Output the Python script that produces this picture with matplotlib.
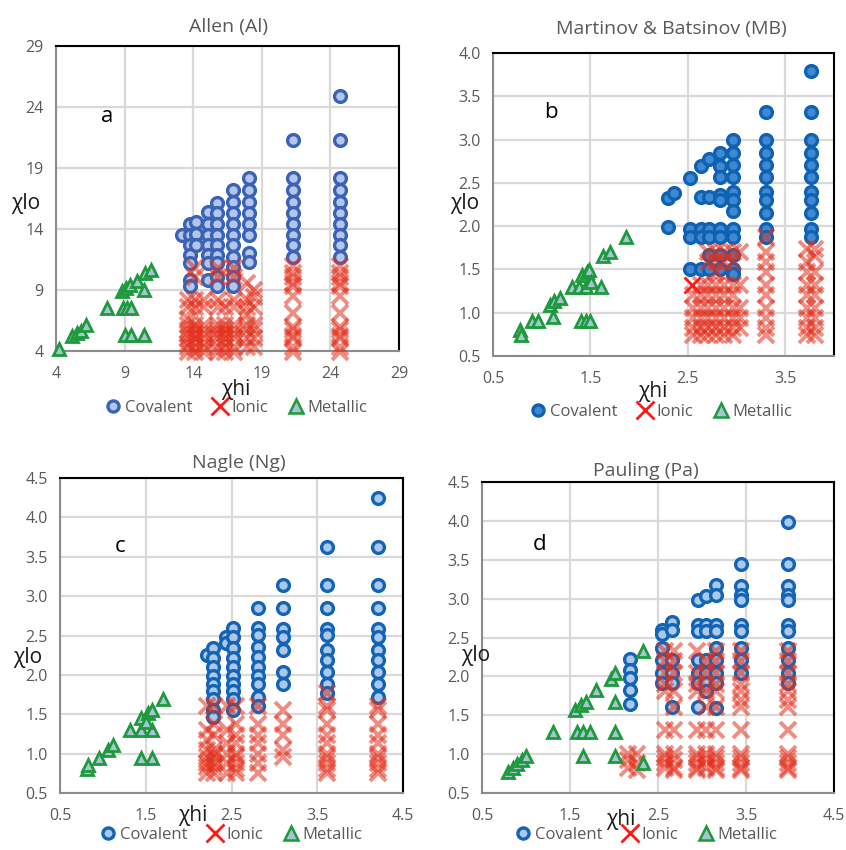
import matplotlib
matplotlib.use("Agg")
import matplotlib.pyplot as plt
from matplotlib.lines import Line2D

plt.rcParams['font.family'] = ['Open Sans', 'DejaVu Sans']

# ---------------- Allen (Al) ----------------
al_cov_x = [13.2, 13.8, 14.2, 15.1, 15.7, 16.9, 18.1, 21.3, 24.7]
al_cov_y = [
    [13.5],
    [14.4, 13.5, 12.7, 11.9, 11.2, 9.8, 9.3],
    [14.6, 13.6, 12.7],
    [15.4, 14.4, 13.5, 12.7, 11.9, 11.2, 9.8],
    [16.1, 15.3, 14.4, 13.5, 12.7, 11.9, 11.2, 10.1, 9.3],
    [17.2, 16.2, 15.3, 14.4, 13.5, 12.7, 11.7, 10.9, 10.1, 9.3],
    [18.2, 17.2, 16.2, 15.3, 14.4, 13.5, 12.0, 11.3],
    [21.3, 18.2, 17.2, 16.2, 15.3, 14.4, 13.5, 12.7, 11.7],
    [24.9, 21.3, 18.2, 17.2, 16.2, 15.3, 14.4, 13.5, 12.7, 11.7],
]
al_ion_x = [13.6, 14.1, 14.8, 15.8, 16.3, 17.0, 17.9, 18.4, 21.3, 24.7]
al_ion_y = [
    [3.9, 4.3, 4.6, 5.1, 5.4, 5.7, 6.1, 6.6, 7.6, 8.2],
    [3.9, 4.3, 5.1, 5.4, 5.7, 6.1, 7.6, 8.2, 10.1, 10.8],
    [3.9, 4.3, 4.6, 5.1, 5.4, 5.7, 6.1, 7.6, 8.2],
    [3.9, 4.3, 5.1, 5.4, 5.7, 6.1, 7.6, 8.2, 10.1, 10.8],
    [3.9, 4.3, 5.1, 5.4, 5.7, 6.1, 7.6],
    [3.9, 4.3, 5.1, 5.4, 5.7, 6.1, 7.6, 8.2, 10.1, 10.8],
    [4.3, 5.1, 5.7, 6.1, 7.0, 7.6, 8.2, 9.6],
    [4.3, 5.1, 5.7, 6.1, 7.6, 8.4, 9.0],
    [3.9, 4.3, 5.1, 5.2, 5.7, 6.0, 7.1, 8.5, 9.3, 9.6, 10.1, 10.4, 11.0],
    [3.9, 4.3, 5.1, 5.2, 5.7, 6.0, 7.1, 8.5, 9.3, 9.6, 10.1, 10.4, 11.0],
]
al_met_x = [4.2, 5.2, 5.5, 5.8, 6.2, 7.7, 8.9, 9.2, 9.5, 9.0, 9.5, 10.4,
            8.8, 9.1, 9.4, 9.9, 10.4, 10.5, 10.9]
al_met_y = [4.2, 5.2, 5.5, 5.6, 6.1, 7.5, 7.5, 7.5, 7.5, 5.3, 5.3, 5.3,
            8.9, 9.2, 9.4, 9.7, 9.0, 10.4, 10.6]

# ---------------- Martinov & Batsinov (MB) ----------------
mb_cov_x = [2.30, 2.36, 2.52, 2.63, 2.72, 2.83, 2.96, 3.30, 3.76]
mb_cov_y = [
    [2.33, 1.99],
    [2.38],
    [2.56, 1.97, 1.88, 1.51],
    [2.69, 2.34, 1.97, 1.88, 1.51],
    [2.77, 2.34, 1.97, 1.88, 1.67, 1.51],
    [2.84, 2.69, 2.57, 2.36, 2.30, 1.97, 1.88, 1.67, 1.51],
    [2.99, 2.84, 2.71, 2.57, 2.40, 2.30, 2.17, 1.97, 1.88, 1.67, 1.51, 1.45],
    [3.32, 2.99, 2.84, 2.71, 2.57, 2.40, 2.30, 2.15, 1.97, 1.88],
    [3.79, 3.32, 2.99, 2.84, 2.71, 2.57, 2.40, 2.30, 2.15, 1.97, 1.88],
]
mb_ion_x = [2.55, 2.63, 2.71, 2.79, 2.87, 2.96, 3.04, 3.30, 3.72, 3.80]
mb_ion_y = [
    [1.20, 1.05, 0.94, 0.82, 0.74],
    [1.32, 1.20, 1.05, 0.94, 0.82, 0.74],
    [1.70, 1.59, 1.32, 1.20, 1.05, 0.94, 0.82, 0.74],
    [1.70, 1.59, 1.47, 1.32, 1.20, 1.05, 0.94, 0.82, 0.74],
    [1.70, 1.59, 1.32, 1.20, 1.05, 0.94, 0.82, 0.74],
    [1.70, 1.59, 1.32, 1.20, 1.05, 0.94, 0.82, 0.74],
    [1.70, 1.32, 1.05, 0.94, 0.82],
    [1.88, 1.70, 1.59, 1.47, 1.32, 1.20, 1.05, 0.94, 0.82, 0.74],
    [1.74, 1.59, 1.47, 1.32, 1.20, 1.05, 0.94, 0.82, 0.74],
    [1.74, 1.65, 1.47, 1.32, 1.20, 1.05, 0.94, 0.82, 0.74],
]
mb_ion_sharp_x = [2.54]
mb_ion_sharp_y = [1.32]
mb_met_x = [0.78, 0.79, 0.90, 0.96, 1.08, 1.13, 1.19, 1.12, 1.31, 1.38, 1.45,
            1.41, 1.46, 1.49, 1.51, 1.61, 1.40, 1.45, 1.50, 1.63, 1.70, 1.87]
mb_met_y = [0.80, 0.74, 0.90, 0.90, 1.09, 1.13, 1.17, 0.95, 1.30, 1.30, 1.30,
            1.43, 1.47, 1.49, 1.36, 1.30, 0.90, 0.90, 0.90, 1.65, 1.70, 1.88]

# ---------------- Nagle (Ng) ----------------
ng_cov_x = [2.21, 2.28, 2.44, 2.52, 2.81, 3.10, 3.61, 4.21]
ng_cov_y = [
    [2.25],
    [2.34, 2.22, 2.10, 1.99, 1.89, 1.79, 1.70, 1.55, 1.47],
    [2.48, 2.40],
    [2.59, 2.48, 2.34, 2.22, 2.10, 1.99, 1.89, 1.79, 1.70, 1.55],
    [2.85, 2.59, 2.51, 2.36, 2.23, 2.10, 1.98, 1.89, 1.72, 1.60],
    [3.14, 2.85, 2.58, 2.48, 2.32, 2.04, 1.89],
    [3.63, 3.14, 2.85, 2.58, 2.51, 2.32, 2.19, 2.04, 1.89, 1.77],
    [4.25, 3.63, 3.14, 2.85, 2.58, 2.48, 2.32, 2.19, 2.04, 1.89, 1.72],
]
ng_ion_x = [2.22, 2.30, 2.45, 2.55, 2.81, 3.10, 3.61, 4.21]
ng_ion_y = [
    [1.60, 1.30, 1.17, 1.05, 0.96, 0.88, 0.83, 0.75],
    [1.60, 1.38, 1.24, 1.05, 1.00, 0.96, 0.88, 0.83, 0.75],
    [1.60, 1.30, 1.13, 1.00, 0.88, 0.75],
    [1.60, 1.38, 1.24, 1.13, 1.00, 0.96, 0.88, 0.80, 0.75],
    [1.60, 1.38, 1.24, 1.13, 1.00, 0.88, 0.75],
    [1.55, 1.38, 1.24, 1.05, 0.96],
    [1.77, 1.60, 1.55, 1.38, 1.24, 1.13, 1.00, 0.95, 0.88, 0.80, 0.75],
    [1.60, 1.55, 1.38, 1.24, 1.13, 1.00, 0.95, 0.88, 0.80, 0.75],
]
ng_met_x = [0.81, 0.83, 0.95, 1.06, 1.12, 1.32, 1.45, 1.57, 1.45, 1.53, 1.57,
            1.45, 1.57, 1.70, 1.50]
ng_met_y = [0.81, 0.85, 0.94, 1.05, 1.11, 1.30, 1.30, 1.30, 1.45, 1.51, 1.55,
            0.94, 0.94, 1.70, 1.40]

# ---------------- Pauling (Pa) ----------------
pa_cov_x = [2.18, 2.55, 2.66, 2.96, 3.04, 3.16, 3.44, 3.98]
pa_cov_y = [
    [2.22, 2.08, 1.98, 1.82, 1.65],
    [2.60, 2.55, 2.36, 2.21, 2.04, 1.91],
    [2.70, 2.60, 2.21, 2.04, 1.91, 1.61],
    [2.98, 2.66, 2.58, 2.21, 2.04, 1.91, 1.61],
    [3.04, 2.66, 2.58, 2.21, 2.04, 1.91, 1.81],
    [3.18, 3.05, 2.66, 2.58, 2.36, 2.21, 2.04, 1.91, 1.59],
    [3.45, 3.16, 3.05, 2.98, 2.66, 2.58, 2.36, 2.21, 2.04],
    [3.99, 3.45, 3.16, 3.05, 2.98, 2.66, 2.58, 2.36, 2.21, 2.04, 1.91],
]
pa_ion_x = [2.16, 2.26, 2.58, 2.68, 2.94, 3.04, 3.16, 3.44, 3.98]
pa_ion_y = [
    [1.00, 0.93, 0.82],
    [1.00, 0.88, 0.79],
    [2.33, 2.20, 2.04, 1.90, 1.81, 1.31, 1.00, 0.95, 0.89, 0.82],
    [2.33, 2.20, 2.04, 1.81, 1.61, 1.31, 1.00, 0.93, 0.82, 0.79],
    [2.33, 2.04, 1.90, 1.81, 1.31, 1.00, 0.95, 0.89, 0.82, 0.79],
    [2.20, 2.04, 1.81, 1.61, 1.31, 1.00, 0.93, 0.82],
    [2.33, 2.20, 2.04, 1.90, 1.81, 1.61, 1.31, 1.00, 0.95, 0.89, 0.82, 0.79],
    [2.33, 2.20, 2.04, 1.90, 1.81, 1.70, 1.61, 1.31, 1.00, 0.95, 0.89, 0.82, 0.79],
    [2.33, 2.20, 2.04, 1.90, 1.81, 1.70, 1.61, 1.31, 1.00, 0.95, 0.89, 0.82, 0.79],
]
pa_met_x = [0.80, 0.85, 0.90, 0.95, 1.00, 1.31, 1.58, 1.65, 1.73, 1.65, 1.56,
            1.62, 1.68, 1.80, 1.97, 2.01, 2.01, 2.01, 2.01, 2.33, 2.33]
pa_met_y = [0.77, 0.82, 0.87, 0.93, 0.97, 1.29, 1.29, 1.29, 1.29, 0.97, 1.57,
            1.63, 1.67, 1.83, 1.97, 2.04, 1.67, 1.29, 0.97, 0.88, 2.32]

GREY = '#595959'
RED = '#E3301C'


def flat(cols, ylists):
    xs, ys = [], []
    for x, yl in zip(cols, ylists):
        xs += [x] * len(yl)
        ys += yl
    return xs, ys


def panel(ax, title, letter, cov, ion, met, lim, ticks, fmt, cov_fc, cov_ec,
          title_xy, letter_xy, hi_xy, lo_xy, leg_xy):
    cx, cy = flat(*cov)
    ix, iy = flat(*ion)
    ax.plot(cx, cy, 'o', ms=8.5, mfc=cov_fc, mec=cov_ec, mew=2.4, ls='none',
            zorder=3, clip_on=False)
    ax.plot(ix, iy, 'x', ms=12, color=RED, mew=2.8, alpha=0.55, ls='none',
            zorder=4, clip_on=False)
    ax.plot(met[0], met[1], '^', ms=8.5, mfc='#A9C3D3', mec='#1C9A3C', mew=2,
            ls='none', zorder=5, clip_on=False)

    ax.set_xlim(lim)
    ax.set_ylim(lim[0], ticks[1][-1])
    ax.set_xticks(ticks[0])
    ax.set_yticks(ticks[1])
    ax.set_xticklabels([fmt % t for t in ticks[0]], fontsize=11.5, color=GREY)
    ax.set_yticklabels([fmt % t for t in ticks[1]], fontsize=11.5, color=GREY)
    ax.tick_params(length=0)
    ax.tick_params(axis='x', pad=11)
    ax.tick_params(axis='y', pad=9)
    ax.grid(True, color='#D9D9D9', lw=1.6, zorder=0)
    ax.set_axisbelow(True)
    for s in ['top', 'right']:
        ax.spines[s].set_color('black')
        ax.spines[s].set_linewidth(1.5)
    for s in ['left', 'bottom']:
        ax.spines[s].set_color('#8C8C8C')
        ax.spines[s].set_linewidth(1.5)

    fig.text(title_xy[0] / W, 1 - title_xy[1] / H, title, ha='center',
             va='center', fontsize=14, color=GREY)
    fig.text(letter_xy[0] / W, 1 - letter_xy[1] / H, letter, ha='center',
             va='center', fontsize=16, color='black')
    fig.text(hi_xy[0] / W, 1 - hi_xy[1] / H, 'χhi', ha='center', va='center',
             fontsize=15, color='#1A1A1A')
    fig.text(lo_xy[0] / W, 1 - lo_xy[1] / H, 'χlo', ha='center', va='center',
             fontsize=15, color='#1A1A1A', zorder=10)

    handles = [
        Line2D([], [], ls='none', marker='o', ms=8, mfc=cov_fc, mec=cov_ec,
               mew=2.4, label='Covalent'),
        Line2D([], [], ls='none', marker='x', ms=13, color='#FF1A1A', mew=2,
               label='Ionic'),
        Line2D([], [], ls='none', marker='^', ms=10, mfc='#A9C3D3',
               mec='#1C9A3C', mew=1.8, label='Metallic'),
    ]
    ax.legend(handles=handles, loc='center', ncol=3, frameon=False,
              bbox_to_anchor=(leg_xy[0] / W, 1 - leg_xy[1] / H),
              bbox_transform=fig.transFigure, fontsize=12, labelcolor=GREY,
              handletextpad=0.05, columnspacing=1.0, handlelength=1.3)


W, H = 846, 850
fig = plt.figure(figsize=(W / 100, H / 100), dpi=100)

ax_a = fig.add_axes([56 / W, 1 - 351 / H, 343 / W, 305 / H])
ax_b = fig.add_axes([493 / W, 1 - 356 / H, 341 / W, 303 / H])
ax_c = fig.add_axes([60 / W, 1 - 793 / H, 343 / W, 315 / H])
ax_d = fig.add_axes([482 / W, 1 - 793 / H, 352 / W, 311 / H])

panel(ax_a, 'Allen (Al)', 'a', (al_cov_x, al_cov_y), (al_ion_x, al_ion_y),
      (al_met_x, al_met_y), (4, 29),
      ([4, 9, 14, 19, 24, 29], [4, 9, 14, 19, 24, 29]), '%d',
      '#B3C5E8', '#3A62B5',
      (228, 27), (107, 117), (236, 390), (26, 204), (235, 408))

panel(ax_b, 'Martinov & Batsinov (MB)', 'b', (mb_cov_x, mb_cov_y),
      (mb_ion_x, mb_ion_y), (mb_met_x, mb_met_y), (0.5, 4.0),
      ([0.5, 1.5, 2.5, 3.5], [0.5, 1.0, 1.5, 2.0, 2.5, 3.0, 3.5, 4.0]), '%.1f',
      '#3F89D2', '#0F62B3',
      (671, 29), (551, 112), (653, 392), (465, 203), (660, 412))
ax_b.plot(mb_ion_sharp_x, mb_ion_sharp_y, 'x', ms=12, color='#FF1A1A',
          mew=2, ls='none', zorder=6)

panel(ax_c, 'Nagle (Ng)', 'c', (ng_cov_x, ng_cov_y), (ng_ion_x, ng_ion_y),
      (ng_met_x, ng_met_y), (0.5, 4.5),
      ([0.5, 1.5, 2.5, 3.5, 4.5], [0.5, 1.0, 1.5, 2.0, 2.5, 3.0, 3.5, 4.0, 4.5]),
      '%.1f', '#A9C8EA', '#1363B6',
      (239, 463), (120, 547), (193, 815), (28, 658), (230, 835))

panel(ax_d, 'Pauling (Pa)', 'd', (pa_cov_x, pa_cov_y), (pa_ion_x, pa_ion_y),
      (pa_met_x, pa_met_y), (0.5, 4.5),
      ([0.5, 1.5, 2.5, 3.5, 4.5], [0.5, 1.0, 1.5, 2.0, 2.5, 3.0, 3.5, 4.0, 4.5]),
      '%.1f', '#A9C8EA', '#1363B6',
      (646, 471), (540, 545), (621, 820), (476, 655), (645, 835))

fig.savefig('out.png', dpi=100)
